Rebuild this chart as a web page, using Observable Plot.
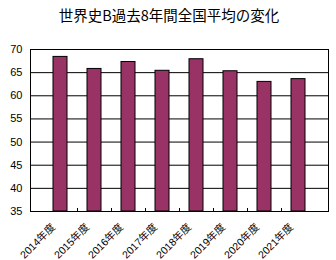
<!DOCTYPE html>
<html><head><meta charset="utf-8">
<script src="https://cdn.jsdelivr.net/npm/d3@7"></script>
<script src="https://cdn.jsdelivr.net/npm/@observablehq/plot@0.6"></script>
<style>
body{margin:0;background:#fff;}
#wrap{width:336px;height:260px;position:relative;}
#title{height:30px;line-height:30px;text-align:center;font-family:"Noto Sans CJK JP","Liberation Sans",sans-serif;font-size:14.5px;color:#000;padding-left:2px;}
svg{display:block;}
</style></head>
<body><div id="wrap"><div id="title">世界史B過去8年間全国平均の変化</div><div id="chart"></div></div>
<script>
const years = ["2014年度","2015年度","2016年度","2017年度","2018年度","2019年度","2020年度","2021年度"];
const averages = [68.4, 65.8, 67.3, 65.4, 67.9, 65.3, 63.0, 63.6];
const yTicks = [35,40,45,50,55,60,65,70];
const yDomain = [35, 70];

const data = years.map((y,i)=>({year:y, value:averages[i]}));
const W = 336, H = 230, mL = 30, mR = 8, mT = 19, mB = 49;

const chart = Plot.plot({
  width: W, height: H,
  marginLeft: mL, marginRight: mR, marginTop: mT, marginBottom: mB,
  style: {fontFamily: '"Liberation Sans","Noto Sans CJK JP",sans-serif', fontSize: "10px", color:"#000", background:"#fff"},
  x: {domain: years, padding: 0.6, label: null},
  y: {domain: yDomain, ticks: yTicks, label: null},
  marks: [
    Plot.ruleY(yTicks, {stroke: "#000", strokeWidth: 1}),
    Plot.barY(data, {x: "year", y1: () => yDomain[0], y2: "value", fill: "#993366", stroke: "#000", strokeWidth: 1}),
    Plot.frame({stroke: "#000", strokeWidth: 1}),
    Plot.axisY({ticks: yTicks, tickSize: 0, tickPadding: 8, fontSize: 11, label: null}),
    Plot.axisX({tickSize: 0, tickPadding: 6, tickRotate: -45, fontSize: 10.5, dx: -7, dy: 8, label: null})
  ]
});

// small tick marks between categories, positioned with the chart's own band scale
const xs = chart.scale("x"), ys = chart.scale("y");
const step = xs.apply(years[1]) - xs.apply(years[0]);
const gap = step - (xs.bandwidth || step * 0.4);
const yBase = Math.round(ys.apply(yDomain[0]));
const svgSel = d3.select(chart);
years.slice(1).forEach(v => {
  const px = Math.round(xs.apply(v) - gap / 2) + 0.5;
  svgSel.append("line").attr("x1", px).attr("x2", px)
    .attr("y1", yBase + 0.5).attr("y2", yBase - 3)
    .attr("stroke", "#000").attr("stroke-width", 1);
});
document.getElementById("chart").appendChild(chart);
</script></body></html>
